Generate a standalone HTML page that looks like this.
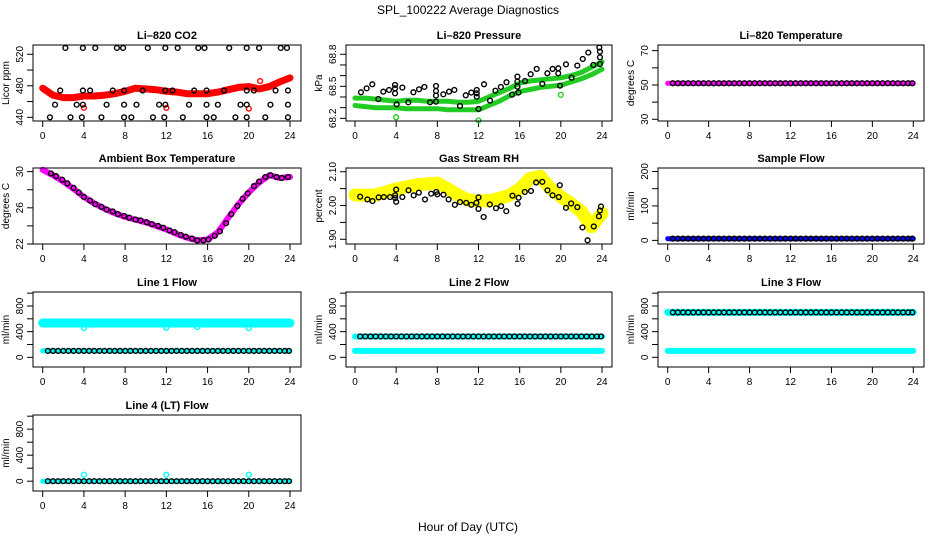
<!DOCTYPE html>
<html><head><meta charset="utf-8"><style>
html,body{margin:0;padding:0;background:#fff;}
svg{display:block;font-family:"Liberation Sans",sans-serif;}
</style></head><body>
<svg id="fig" width="936" height="540" viewBox="0 0 936 540">
<text x="468" y="14" text-anchor="middle" font-size="12">SPL_100222  Average Diagnostics</text>
<text x="468" y="531" text-anchor="middle" font-size="12">Hour of Day (UTC)</text>
</svg>
<script>
// ---------- data ----------
const hours = [0,1,2,3,4,5,6,7,8,9,10,11,12,13,14,15,16,17,18,19,20,21,22,23,24];
const xTicks = [0,4,8,12,16,20,24];
const denseTimes = [0.5,1,1.5,2,2.5,3,3.5,4,4.5,5,5.5,6,6.5,7,7.5,8,8.5,9,9.5,10,10.5,11,11.5,12,12.5,13,13.5,14,14.5,15,15.5,16,16.5,17,17.5,18,18.5,19,19.5,20,20.5,21,21.5,22,22.5,23,23.5,23.9];

const co2Band = [477,468,465,465,467,467,468,470,473,477,476,475,473,472,470,470,470,472,475,478,479,476,479,485,490];
const co2BlackT = [2.2,3.9,5.1,7.2,7.8,10.2,11.9,13.1,15.1,15.7,18.1,19.8,21.0,23.1,23.7, 1.7,3.9,4.6,6.8,7.9,9.7,11.9,12.6,14.7,15.9,17.6,19.8,20.5,22.6,23.8, 1.2,3.3,3.9,6.2,7.9,9.1,11.3,11.9,14.2,15.9,17.0,19.2,19.8,22.1,23.8, 0.7,2.7,3.8,5.7,7.9,8.6,10.7,11.8,13.6,15.9,16.6,18.7,19.8,21.6,23.8];
const co2BlackV = [528,528,528,528,528,528,528,528,528,528,528,528,528,528,528, 474,474,474,474,474,474,474,474,474,474,474,474,474,474,474, 456,456,456,456,456,456,456,456,456,456,456,456,456,456,456, 440,440,440,440,440,440,440,440,440,440,440,440,440,440,440];
const co2RedT = [4.0,12.0,20.0,21.1];
const co2RedV = [452,452,451,486];

const presUpper = [68.39,68.39,68.38,68.37,68.36,68.37,68.37,68.36,68.36,68.36,68.35,68.35,68.36,68.40,68.44,68.48,68.53,68.55,68.56,68.57,68.58,68.60,68.63,68.68,68.73];
const presLower = [68.32,68.31,68.30,68.30,68.30,68.29,68.29,68.29,68.29,68.28,68.28,68.28,68.28,68.32,68.36,68.41,68.45,68.47,68.49,68.50,68.51,68.54,68.57,68.61,68.66];
const presGreenT = [4.0,12.0,20.0];
const presGreenV = [68.21,68.18,68.42];
const presBlackT = [0.58,1.13,1.68,2.27,2.75,3.31,3.89,3.89,3.89,4.05,4.6,5.18,5.67,6.22,6.74,7.29,7.87,7.87,7.87,7.87,8.58,9.14,9.65,10.2,10.76,11.3,11.83,11.83,11.83,12.0,12.54,13.12,13.64,14.17,14.72,15.26,15.78,15.78,15.78,15.88,16.52,17.07,17.65,18.2,18.69,19.2,19.75,19.75,19.92,20.5,21.05,21.6,22.13,22.67,23.16,23.74,23.8,23.8,23.8];
const presBlackV = [68.444,68.481,68.519,68.381,68.45,68.466,68.513,68.481,68.434,68.331,68.488,68.35,68.444,68.472,68.494,68.35,68.503,68.456,68.413,68.356,68.425,68.45,68.466,68.316,68.416,68.441,68.434,68.466,68.403,68.288,68.519,68.366,68.459,68.494,68.538,68.422,68.591,68.544,68.497,68.441,68.55,68.613,68.663,68.522,68.622,68.663,68.669,68.622,68.506,68.706,68.581,68.694,68.756,68.816,68.7,68.863,68.825,68.772,68.709];

const liTempLevel = 51;

const ambBand = [30.2,29.6,28.9,28.1,27.2,26.5,25.9,25.4,25.0,24.7,24.4,24.0,23.6,23.1,22.7,22.4,22.5,23.3,24.9,26.4,27.7,28.8,29.6,29.3,29.4];
const ambBlackT = [0.8,1.3,1.9,2.4,3.0,3.5,4.0,4.6,5.1,5.7,6.2,6.8,7.3,7.9,8.4,9.0,9.5,10.1,10.6,11.2,11.7,12.3,12.8,13.4,13.9,14.5,15.0,15.6,16.1,16.7,17.2,17.8,18.3,18.9,19.4,19.9,20.5,21.0,21.6,22.1,22.7,23.2,23.8];
const ambBlackV = [29.8,29.5,29.1,28.7,28.2,27.7,27.2,26.8,26.4,26.1,25.8,25.6,25.3,25.1,24.9,24.7,24.6,24.4,24.2,24.0,23.8,23.5,23.3,23.0,22.8,22.6,22.4,22.4,22.5,22.9,23.4,24.3,25.3,26.2,27.0,27.6,28.4,28.9,29.4,29.6,29.4,29.3,29.4];

const rhBand = [2.031,2.030,2.031,2.040,2.049,2.055,2.061,2.064,2.066,2.050,2.031,2.016,2.014,2.014,2.021,2.030,2.049,2.080,2.086,2.050,2.026,2.006,1.982,1.937,1.977];
const rhBlackT = [0.5,1.2,1.7,2.3,2.8,3.4,3.9,3.9,4.0,4.0,4.6,5.2,5.7,6.2,6.8,7.4,7.9,8.0,8.6,9.1,9.7,10.2,10.8,11.3,11.8,12.0,12.0,12.5,13.1,13.7,14.2,14.7,15.3,15.8,15.9,16.5,17.1,17.6,18.2,18.7,19.2,19.8,19.9,20.5,21.0,21.6,22.1,22.6,23.2,23.7,23.8,23.9];
const rhBlackV = [2.026,2.018,2.013,2.024,2.025,2.025,2.022,2.030,2.047,2.011,2.025,2.045,2.030,2.038,2.018,2.035,2.040,2.033,2.032,2.018,2.002,2.010,2.008,2.002,2.008,1.990,2.024,1.966,2.003,1.992,1.998,1.983,2.029,2.005,2.023,2.040,2.043,2.068,2.070,2.045,2.030,2.025,2.060,1.993,2.006,1.995,1.935,1.897,1.938,1.968,1.985,1.997];

const sampleLevel = 5;
const line1High = 535, line1Low = 100;
const line1DipT = [4.0,12.0,15.0,20.0];
const line1DipV = [455,460,470,455];
const line2High = 325, line2Low = 100;
const line3High = 700, line3Low = 100;
const line4Level = 0;
const line4SpikeT = [4.0,12.0,20.0];
const line4SpikeV = [100,100,100];

// ---------- layout ----------
const NS = 'http://www.w3.org/2000/svg';
const svg = document.getElementById('fig');
const cols = [{l:33,r:301,x0:42.7,x24:290},{l:346,r:612,x0:355,x24:602},{l:658,r:924,x0:667.7,x24:913.3}];
const rows = [{t:45,b:121},{t:168,b:244},{t:292,b:367},{t:415,b:491}];

function mk(tag, attrs, parent){
  const e = document.createElementNS(NS, tag);
  for (const k in attrs) e.setAttribute(k, attrs[k]);
  (parent||svg).appendChild(e);
  return e;
}

function panel(ci, ri, name, title, ylab, ymin, ymax, ticks, labels){
  const c = cols[ci], r = rows[ri];
  const g = mk('g', {});
  
  
  const X = t => c.x0 + (c.x24 - c.x0) * t / 24;
  const Y = v => r.b - (v - ymin) / (ymax - ymin) * (r.b - r.t);
  const tt = mk('text', {x:(c.l+c.r)/2, y:r.t-6, 'text-anchor':'middle','font-size':'11','font-weight':'bold'}, g);
  tt.textContent = title;
  
  
  const yl = mk('text', {x:0, y:0, 'text-anchor':'middle','font-size':'10', transform:`translate(${c.l-24},${(r.t+r.b)/2}) rotate(-90)`}, g);
  yl.textContent = ylab;
  
  
  const xa = mk('g', {}, g);
  
  
  xTicks.forEach(t => {
    mk('line', {x1:X(t), x2:X(t), y1:r.b, y2:r.b+6, stroke:'#000','stroke-width':1}, xa);
    const lb = mk('text', {x:X(t), y:r.b+18, 'text-anchor':'middle','font-size':'10'}, xa);
    lb.textContent = t;
  });
  const ya = mk('g', {}, g);
  
  
  ticks.forEach(v => {
    mk('line', {x1:c.l-6, x2:c.l, y1:Y(v), y2:Y(v), stroke:'#000','stroke-width':1}, ya);
  });
  labels.forEach(v => {
    const lb = mk('text', {x:0, y:0, 'text-anchor':'middle','font-size':'10', transform:`translate(${c.l-10},${Y(+v)}) rotate(-90)`}, ya);
    lb.textContent = v;
  });
  const plot = mk('g', {}, g);
  
  
  mk('rect', {x:c.l, y:r.t, width:c.r-c.l, height:r.b-r.t, fill:'none', stroke:'#000', 'stroke-width':1}, g);
  return {X, Y, g:plot};
}

function band(p, ts, vs, color, w, name){
  const pts = ts.map((t,i) => p.X(t).toFixed(1)+','+p.Y(vs[i]).toFixed(1)).join(' ');
  const e = mk('polyline', {points:pts, fill:'none', stroke:color, 'stroke-width':w, 'stroke-linejoin':'round', 'stroke-linecap':'round'}, p.g);
  
  
}
function circles(p, ts, vs, color, name){
  const grp = mk('g', {}, p.g);
  
  
  ts.forEach((t,i) => {
    const c = mk('circle', {cx:p.X(t), cy:p.Y(vs[i]), r:2.4, fill:'none', stroke:color, 'stroke-width':1.4}, grp);
    
    
  });
}
const lvl = (ts, v) => ts.map(() => v);
const full = [0,24];

// CO2
let p = panel(0,0,'co2','Li\u2013820 CO2','Licor ppm',435.3,531.8,[440,460,480,500,520],['440','480','520']);
band(p, hours, co2Band, '#ff0000', 7, 'co2-red-band');
circles(p, co2RedT, co2RedV, '#ff0000', 'co2-red-outliers');
circles(p, co2BlackT, co2BlackV, '#000', 'co2-black-points');

// Pressure
p = panel(1,0,'pressure','Li\u2013820 Pressure','kPa',68.175,68.887,[68.2,68.3,68.4,68.5,68.6,68.7,68.8],['68.2','68.5','68.8']);
band(p, hours, presUpper, '#22cc22', 5, 'pressure-upper-band');
band(p, hours, presLower, '#22cc22', 5, 'pressure-lower-band');
circles(p, presGreenT, presGreenV, '#22cc22', 'pressure-green-outliers');
circles(p, presBlackT, presBlackV, '#000', 'pressure-black-points');

// Li-820 temp
p = panel(2,0,'li820-temp','Li\u2013820 Temperature','degrees C',29.0,73.3,[30,40,50,60,70],['30','50','70']);
band(p, full, lvl(full, liTempLevel), '#ff00ff', 5, 'li820-temp-band');
circles(p, denseTimes, lvl(denseTimes, liTempLevel), '#000', 'li820-temp-points');

// Ambient
p = panel(0,1,'ambient-temp','Ambient Box Temperature','degrees C',22.0,30.4,[22,24,26,28,30],['22','26','30']);
band(p, hours, ambBand, '#ff00ff', 6, 'ambient-band');
circles(p, ambBlackT, ambBlackV, '#000', 'ambient-points');

// RH
p = panel(1,1,'gas-rh','Gas Stream RH','percent',1.886,2.111,[1.90,1.95,2.00,2.05,2.10],['1.90','2.00','2.10']);
band(p, hours, rhBand, '#ffff00', 13, 'rh-yellow-band');
circles(p, rhBlackT, rhBlackV, '#000', 'rh-black-points');

// Sample flow
p = panel(2,1,'sample-flow','Sample Flow','ml/min',-10.5,210,[0,50,100,150,200],['0','100','200']);
band(p, full, lvl(full, sampleLevel), '#0000ff', 5, 'sample-flow-band');
circles(p, denseTimes, lvl(denseTimes, sampleLevel), '#000', 'sample-flow-points');

const fTicks = [0,200,400,600,800,1000], fLabels = ['0','400','800'];
// Line 1
p = panel(0,2,'line1-flow','Line 1 Flow','ml/min',-151,1018,fTicks,fLabels);
band(p, full, lvl(full, line1High), '#00ffff', 9, 'line1-high-band');
circles(p, line1DipT, line1DipV, '#00ffff', 'line1-dips');
band(p, full, lvl(full, line1Low), '#00ffff', 5, 'line1-low-band');
circles(p, denseTimes, lvl(denseTimes, line1Low), '#000', 'line1-points');
// Line 2
p = panel(1,2,'line2-flow','Line 2 Flow','ml/min',-151,1018,fTicks,fLabels);
band(p, full, lvl(full, line2High), '#00ffff', 6, 'line2-high-band');
band(p, full, lvl(full, line2Low), '#00ffff', 6, 'line2-low-band');
circles(p, denseTimes, lvl(denseTimes, line2High), '#000', 'line2-points');
// Line 3
p = panel(2,2,'line3-flow','Line 3 Flow','ml/min',-151,1018,fTicks,fLabels);
band(p, full, lvl(full, line3High), '#00ffff', 7, 'line3-high-band');
band(p, full, lvl(full, line3Low), '#00ffff', 6, 'line3-low-band');
circles(p, denseTimes, lvl(denseTimes, line3High), '#000', 'line3-points');
// Line 4
p = panel(0,3,'line4-flow','Line 4 (LT) Flow','ml/min',-151,1018,fTicks,fLabels);
band(p, full, lvl(full, line4Level), '#00ffff', 5, 'line4-band');
circles(p, line4SpikeT, line4SpikeV, '#00ffff', 'line4-spikes');
circles(p, denseTimes, lvl(denseTimes, line4Level), '#000', 'line4-points');
</script>
</body></html>
